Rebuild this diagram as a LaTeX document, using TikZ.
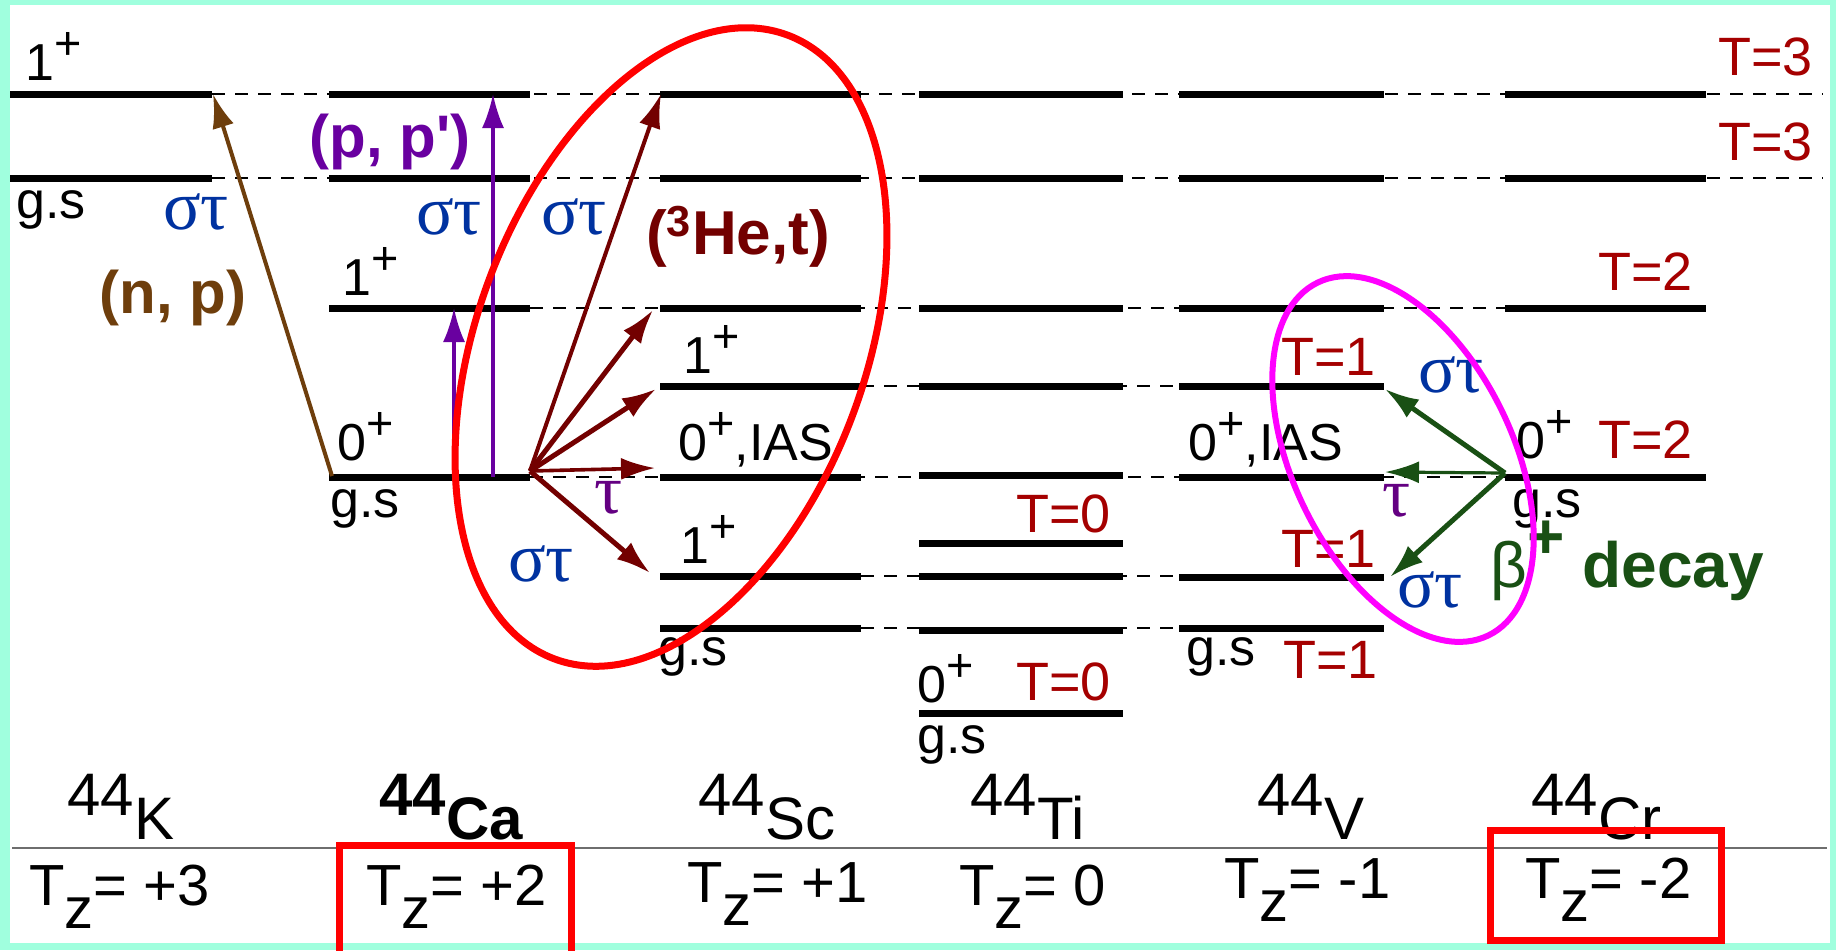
\documentclass[tikz,border=0pt]{standalone}
\usepackage{fontspec}
\setmainfont{Liberation Sans}
\newfontfamily\grk{Liberation Serif}
\usetikzlibrary{arrows.meta}
\definecolor{edge}{RGB}{160,255,222}
\definecolor{tred}{RGB}{165,0,0}
\definecolor{maroon}{RGB}{115,0,0}
\definecolor{umber}{RGB}{110,62,12}
\definecolor{pviolet}{RGB}{105,0,160}
\definecolor{sblue}{RGB}{0,50,160}
\definecolor{tpurple}{RGB}{100,0,130}
\definecolor{dgreen}{RGB}{25,80,20}
\definecolor{rulegray}{RGB}{110,110,110}
\definecolor{hotred}{RGB}{255,0,0}
\definecolor{hotmag}{RGB}{255,0,255}
\newcommand{\dn}[1]{\raisebox{-0.4em}{#1}}
\newcommand{\up}[1]{\raisebox{0.4em}{\scalebox{0.9}{#1}}}

\begin{document}
\begin{tikzpicture}[
  x=0.5pt, y=0.5pt,
  lvl/.style={line width=3.5pt},
  tie/.style={line width=1.4pt, dash pattern=on 6.5pt off 5pt},
  jp/.style={font=\fontsize{26}{30}\selectfont, inner sep=0pt, anchor=base west},
  tval/.style={jp, text=tred, font=\fontsize{27}{30}\selectfont},
  st/.style={text=sblue, font=\grk\fontsize{35}{38}\selectfont, inner sep=0pt},
  tau/.style={st, text=tpurple},
  rx/.style={font=\bfseries\fontsize{30}{34}\selectfont, inner sep=0pt},
  nuc/.style={font=\fontsize{30}{34}\selectfont, inner sep=0pt, anchor=base west},
  tz/.style={font=\fontsize{29}{32}\selectfont, inner sep=0pt, anchor=base west},
  arr/.style={-{Latex[length=17pt,width=11pt]}, line width=2.5pt},
  ring/.style={line width=3.5pt}]

  \useasboundingbox (0,0) rectangle (1836,-950);
  \fill[edge] (0,0) rectangle (1836,-950);
  \fill[white] (10,-5) rectangle (1830,-943);

  % dashed ties between analog levels
  \foreach \y in {94,178} \draw[tie] (212,-\y) -- (1823,-\y);
  \foreach \y in {308,477} \draw[tie] (530,-\y) -- (1505,-\y);
  \foreach \y in {386,576,628} \draw[tie] (861,-\y) -- (1179,-\y);

  % level schemes, one column per isobar
  \foreach \y in {94,178} \draw[lvl] (10,-\y) -- (212,-\y);
  \foreach \y in {94,178,308,477} \draw[lvl] (329,-\y) -- (530,-\y);
  \foreach \y in {94,178,308,386,477,576,628} \draw[lvl] (660,-\y) -- (861,-\y);
  \foreach \y in {94,178,308,386,475,543,576,630,713} \draw[lvl] (919,-\y) -- (1123,-\y);
  \foreach \y in {94,178,308,386,477,577,628} \draw[lvl] (1179,-\y) -- (1384,-\y);
  \foreach \y in {94,178,308,477} \draw[lvl] (1505,-\y) -- (1706,-\y);

  \draw[rulegray, line width=1pt] (12,-848) -- (1827,-848);

  % end points of the transitions
  \coordinate (k1)  at (213,-94);
  \coordinate (cags) at (332,-476);
  \coordinate (pa0) at (454,-477);
  \coordinate (pa1) at (454,-308);
  \coordinate (pb0) at (493,-477);
  \coordinate (pb1) at (493,-94);
  \coordinate (he)  at (530,-471);
  \coordinate (sc6) at (661,-94);
  \coordinate (sc5) at (653,-310);
  \coordinate (sc4) at (656,-389);
  \coordinate (sc3) at (655,-468);
  \coordinate (sc2) at (650,-573);
  \coordinate (crgs) at (1505,-473);
  \coordinate (v4)  at (1385,-389);
  \coordinate (v3)  at (1385,-472);
  \coordinate (v2)  at (1390,-577);

  \draw[arr, umber, line width=2pt] (cags) -- (k1);
  \draw[arr, pviolet, line width=1.6pt] (pa0) -- (pa1);
  \draw[arr, pviolet, line width=1.6pt] (pb0) -- (pb1);
  \draw[arr, maroon, line width=2pt] (he) -- (sc6);
  \draw[arr, maroon] (he) -- (sc5);
  \draw[arr, maroon] (he) -- (sc4);
  \draw[arr, maroon, line width=1.8pt] (he) -- (sc3);
  \draw[arr, maroon] (he) -- (sc2);
  \draw[arr, dgreen] (crgs) -- (v4);
  \draw[arr, dgreen, line width=1.6pt] (crgs) -- (v3);
  \draw[arr, dgreen] (crgs) -- (v2);

  % 44K
  \node[jp] (k1l) at (25,-80) {1\up{+}};
  \node[jp] (kgs) at (16,-218) {g.s};
  \node[st] (kst) at (196,-212) {στ};
  \node[rx, text=umber] (np) at (173,-298) {(n, p)};
  % 44Ca
  \node[rx, text=pviolet] (pp) at (390,-142) {(p, p\textquotesingle)};
  \node[st] (cast) at (449,-217) {στ};
  \node[jp] (ca1l) at (342,-295) {1\up{+}};
  \node[jp] (ca0l) at (337,-460) {0\up{+}};
  \node[jp] (cagsl) at (330,-517) {g.s};
  \node[st] (hest) at (574,-217) {στ};
  \node[rx, text=maroon, font=\bfseries\fontsize{31}{34}\selectfont] (het) at (738,-237) {(\textsuperscript{3}He,t)};
  \node[tau] (hetau) at (609,-498) {τ};
  \node[st] (hest2) at (541,-564) {στ};
  % 44Sc
  \node[jp] (sc4l) at (683,-373) {1\up{+}};
  \node[jp] (sc3l) at (678,-460) {0\up{+},IAS};
  \node[jp] (sc2l) at (680,-563) {1\up{+}};
  \node[jp] (scgs) at (658,-665) {g.s};
  % 44Ti
  \node[tval, anchor=base east] (ti1t) at (1111,-532) {T=0};
  \node[jp] (ti0l) at (917,-702) {0\up{+}};
  \node[tval, anchor=base east] (ti0t) at (1111,-700) {T=0};
  \node[jp] (tigs) at (917,-753) {g.s};
  % 44V
  \node[tval] (v4t) at (1281,-375) {T=1};
  \node[jp] (v3l) at (1188,-460) {0\up{+},IAS};
  \node[tval] (v2t) at (1281,-567) {T=1};
  \node[jp] (vgs) at (1186,-665) {g.s};
  \node[tval] (vgst) at (1283,-678) {T=1};
  % 44Cr
  \node[jp] (cr0l) at (1516,-458) {0\up{+}};
  \node[tval] (cr0t) at (1598,-458) {T=2};
  \node[jp] (crgsl) at (1512,-517) {g.s};
  \node[tval] (cr2t) at (1598,-290) {T=2};
  \node[tval, anchor=base east] (t3a) at (1813,-75) {T=3};
  \node[tval, anchor=base east] (t3b) at (1813,-160) {T=3};
  \node[st] (vst) at (1451,-375) {στ};
  \node[tau] (vtau) at (1397,-501) {τ};
  \node[st] (vst2) at (1430,-590) {στ};
  \node[inner sep=0pt, anchor=base west, text=dgreen, font=\fontsize{32}{36}\selectfont] (beta) at (1490,-587) {β\raisebox{0.45em}{\textbf{+}} \textbf{decay}};

  % isobar names and isospin projections
  \node[nuc] (nk)  at (67,-815)   {44\dn{K}};
  \node[nuc, font=\bfseries\fontsize{30}{34}\selectfont] (nca) at (379,-815) {44\dn{Ca}};
  \node[nuc] (nsc) at (698,-815)  {44\dn{Sc}};
  \node[nuc] (nti) at (970,-815)  {44\dn{Ti}};
  \node[nuc] (nv)  at (1257,-815) {44\dn{V}};
  \node[nuc] (ncr) at (1531,-815) {44\dn{Cr}};
  \node[tz] (zk)  at (29,-905)   {T\dn{z}= +3};
  \node[tz] (zca) at (366,-905)  {T\dn{z}= +2};
  \node[tz] (zsc) at (687,-902)  {T\dn{z}= +1};
  \node[tz] (zti) at (959,-905)  {T\dn{z}= 0};
  \node[tz] (zv)  at (1224,-898) {T\dn{z}= -1};
  \node[tz] (zcr) at (1525,-898) {T\dn{z}= -2};

  % highlights
  \draw[ring, hotred, rotate around={-20.5:(671,-347)}] (671,-347) ellipse [x radius=194, y radius=333];
  \draw[ring, hotmag, line width=3pt, rotate around={25.8:(1403,-459)}] (1403,-459) ellipse [x radius=110, y radius=196];
  \draw[ring, hotred] (339,-845) rectangle (571,-960);
  \draw[ring, hotred] (1490,-830) rectangle (1721,-940);
\end{tikzpicture}
\end{document}
